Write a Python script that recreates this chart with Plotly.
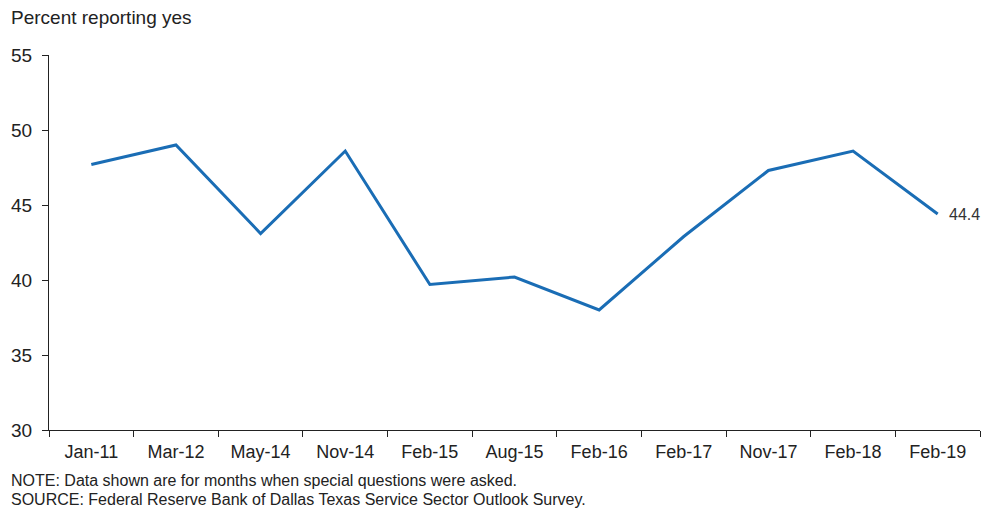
import plotly.graph_objects as go

categories = ["Jan-11", "Mar-12", "May-14", "Nov-14", "Feb-15", "Aug-15",
              "Feb-16", "Feb-17", "Nov-17", "Feb-18", "Feb-19"]
values = [47.7, 49.0, 43.1, 48.6, 39.7, 40.2, 38.0, 42.9, 47.3, 48.6, 44.4]
y_ticks = [30, 35, 40, 45, 50, 55]

FONT = "Liberation Sans, Arial, sans-serif"
LINE = "#1a6db5"
TXT = "#222222"

# page has an 8px body margin; compensate so the figure fills the window
OFF = 8
W, H = 997 - OFF, 515 - OFF
L, R, T, B = 49 - OFF, 17, 55 - OFF, 85
PW, PH = W - L - R, H - T - B


def px(x):
    return (x - OFF - L) / PW


def py(y):
    return 1 - (y - OFF - T) / PH


fig = go.Figure()
fig.add_trace(go.Scatter(
    x=categories, y=values, mode="lines",
    line=dict(color=LINE, width=3),
    hoverinfo="x+y", showlegend=False,
))

fig.update_layout(
    width=W, height=H,
    margin=dict(l=L, r=R, t=T, b=B, autoexpand=False),
    paper_bgcolor="white", plot_bgcolor="white",
    font=dict(family=FONT, color=TXT),
    xaxis=dict(
        type="category", range=[-0.5, len(categories) - 0.5],
        tickson="boundaries", ticks="outside", ticklen=6, tickcolor=TXT,
        showline=True, linecolor=TXT, linewidth=1.2,
        showgrid=False, zeroline=False, ticklabelstandoff=5,
        tickfont=dict(family=FONT, size=18, color=TXT),
    ),
    yaxis=dict(
        range=[30, 55], tickvals=y_ticks,
        ticks="outside", ticklen=6, tickcolor=TXT,
        showline=True, linecolor=TXT, linewidth=1.2,
        showgrid=False, zeroline=False, ticklabelstandoff=6,
        tickfont=dict(family=FONT, size=19, color=TXT),
    ),
    annotations=[
        dict(text=f"{values[-1]:.1f}", x=categories[-1], y=values[-1],
             xref="x", yref="y", showarrow=False, xanchor="left", yanchor="middle",
             xshift=9, font=dict(family=FONT, size=16, color="#333333")),
        dict(text="Percent reporting yes", x=px(9), y=py(17), xref="paper", yref="paper",
             showarrow=False, font=dict(family=FONT, size=19, color=TXT),
             xanchor="left", yanchor="middle"),
        dict(text="NOTE: Data shown are for months when special questions were asked.",
             x=px(9), y=py(481), xref="paper", yref="paper", showarrow=False,
             font=dict(family=FONT, size=16, color=TXT),
             xanchor="left", yanchor="middle"),
        dict(text="SOURCE: Federal Reserve Bank of Dallas Texas Service Sector Outlook Survey.",
             x=px(9), y=py(499), xref="paper", yref="paper", showarrow=False,
             font=dict(family=FONT, size=16, color=TXT),
             xanchor="left", yanchor="middle"),
    ],
)

fig.write_html("out.html")
